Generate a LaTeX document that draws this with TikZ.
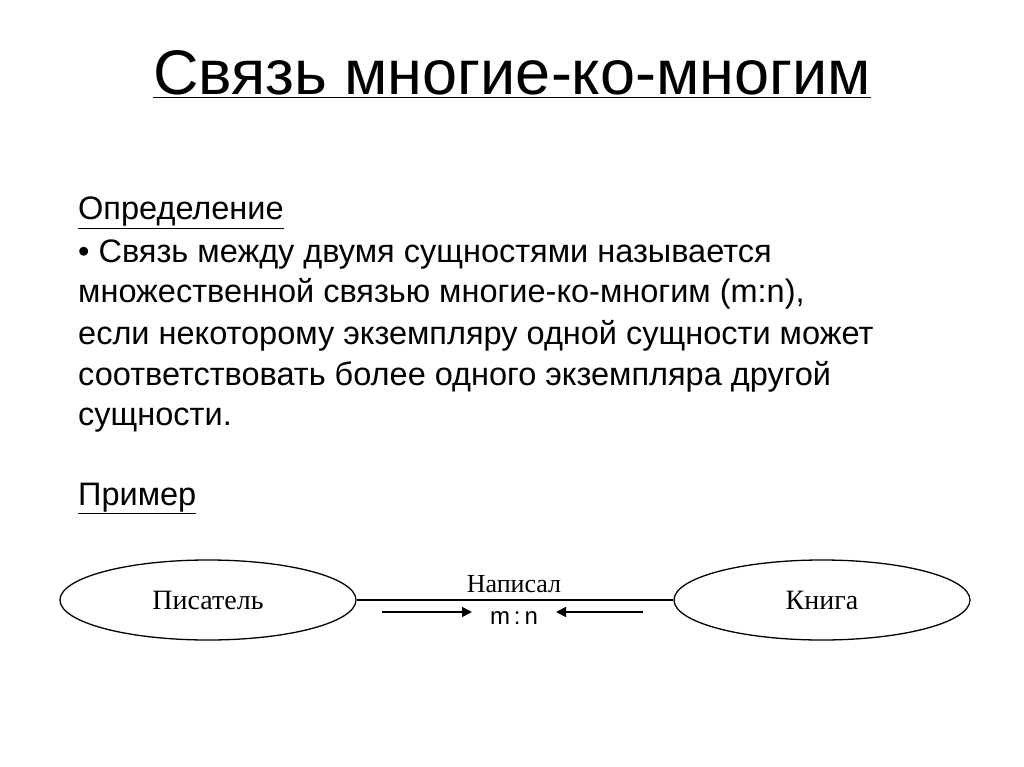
\documentclass[tikz,border=0pt]{standalone}
\usepackage{fontspec}
\setmainfont{Liberation Sans}
\newfontfamily\serif{Liberation Serif}
\usetikzlibrary{shapes.geometric,arrows.meta}
\tikzset{
 ent/.style={draw,ellipse,line width=1.3pt,minimum width=296pt,minimum height=80pt,font=\serif\fontsize{28}{30}\selectfont},
 body/.style={anchor=base west,font=\fontsize{32.5}{36}\selectfont,inner sep=0pt},
 arr/.style={-{Triangle[length=10pt,width=10pt]},line width=1.6pt}
}
\begin{document}
\begin{tikzpicture}[x=1pt,y=-1pt]
\useasboundingbox (0,0) rectangle (1024,767);
\fill[white] (0,0) rectangle (1024,767);
\node[font=\fontsize{63}{66}\selectfont,anchor=base] (title) at (512,95) {\underline{Связь многие-ко-многим}};
\node[body] (l0) at (78,220) {\underline{Определение}};
\node[body] (l1) at (78,262) {• Связь между двумя сущностями называется};
\node[body] (l2) at (78,302) {множественной связью многие-ко-многим (m:n),};
\node[body] (l3) at (78,344) {если некоторому экземпляру одной сущности может};
\node[body] (l4) at (78,385) {соответствовать более одного экземпляра другой};
\node[body] (l5) at (78,425) {сущности.};
\node[body] (l6) at (78,505) {\underline{Пример}};
\node[ent] (a) at (208,600) {Писатель};
\node[ent] (b) at (822,600) {Книга};
\draw[line width=1.3pt] (a) -- (b);
\node[font=\serif\fontsize{26}{28}\selectfont,anchor=base] (rel) at (514,592) {Написал};
\node[font=\fontsize{24}{26}\selectfont,anchor=base] (mn) at (514,624) {m\,:\,n};
\coordinate (s1) at (382,612);
\coordinate (e1) at (472,612);
\coordinate (s2) at (643,612);
\coordinate (e2) at (556,612);
\draw[arr] (s1) -- (e1);
\draw[arr] (s2) -- (e2);
\end{tikzpicture}
\end{document}
